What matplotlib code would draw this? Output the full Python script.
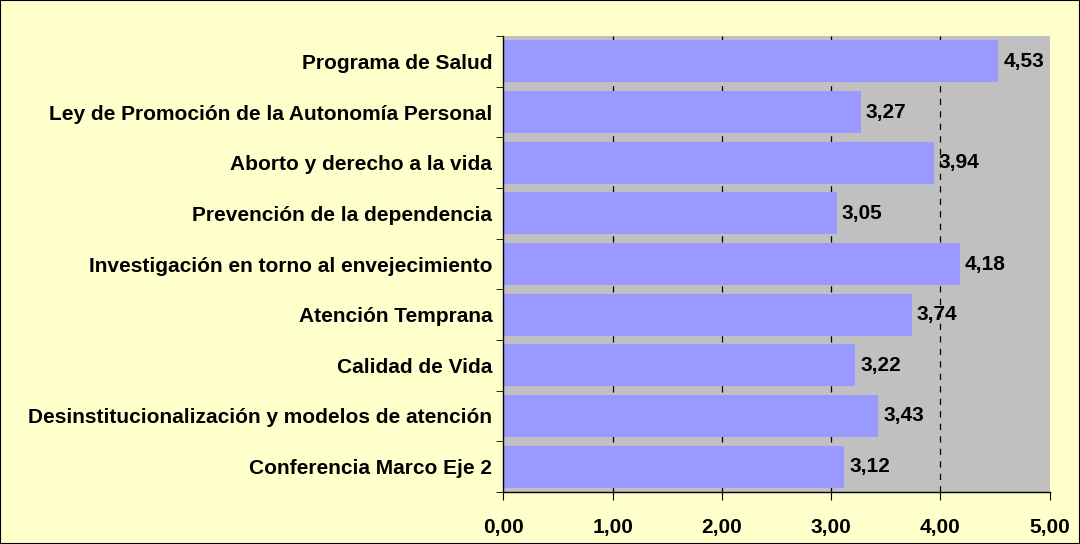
import matplotlib.pyplot as plt
from matplotlib.patches import Rectangle
import numpy as np

# Datos del gráfico (de arriba a abajo)
temas = ['Programa de Salud', 'Ley de Promoción de la Autonomía Personal',
         'Aborto y derecho a la vida', 'Prevención de la dependencia',
         'Investigación en torno al envejecimiento', 'Atención Temprana',
         'Calidad de Vida', 'Desinstitucionalización y modelos de atención',
         'Conferencia Marco Eje 2']
valores = [4.53, 3.27, 3.94, 3.05, 4.18, 3.74, 3.22, 3.43, 3.12]
ticks_x = [0, 1, 2, 3, 4, 5]

plt.rcParams['font.family'] = ['Liberation Sans', 'DejaVu Sans']
plt.rcParams['font.weight'] = 'bold'
fs = 15

fig = plt.figure(figsize=(10.8, 5.44), dpi=100, facecolor='#FFFFCC')
ax = fig.add_axes([0.466, 0.0956, 0.506, 0.8382])
ax.set_facecolor('#C0C0C0')

pos = np.arange(len(temas))[::-1]
ax.barh(pos, valores, height=0.83, color='#9999FF', zorder=2)

for p, v in zip(pos, valores):
    ax.annotate(f'{v:.2f}'.replace('.', ','), (v, p), xytext=(3.5, 0),
                textcoords='offset points', va='center', ha='left',
                fontsize=fs, fontweight='bold', zorder=3)

ax.set_xlim(0, 5)
ax.set_ylim(-0.5, len(temas) - 0.5)
ax.set_xticks(ticks_x)
ax.set_xticklabels([f'{t:.2f}'.replace('.', ',') for t in ticks_x], fontsize=fs, fontweight='bold')
ax.set_yticks(pos)
ax.set_yticklabels(temas, fontsize=fs, fontweight='bold')
ax.tick_params(axis='y', length=0, pad=8)
ax.set_yticks(np.arange(len(temas) + 1) - 0.5, minor=True)
ax.tick_params(axis='y', which='minor', length=5, direction='out')
ax.tick_params(axis='x', length=6, direction='out', pad=13)

# Líneas de división discontinuas
for t in ticks_x[1:-1]:
    ax.axvline(t, color='black', linestyle=(0, (5, 5)), linewidth=0.9, zorder=1)

for s in ['top', 'right']:
    ax.spines[s].set_visible(False)
ax.spines['left'].set_linewidth(1)
ax.spines['bottom'].set_linewidth(1)

fig.patches.append(Rectangle((0, 0), 1, 1, transform=fig.transFigure, fill=False,
                             edgecolor='black', linewidth=1.5))

plt.savefig('out.png', dpi=100, facecolor=fig.get_facecolor())
